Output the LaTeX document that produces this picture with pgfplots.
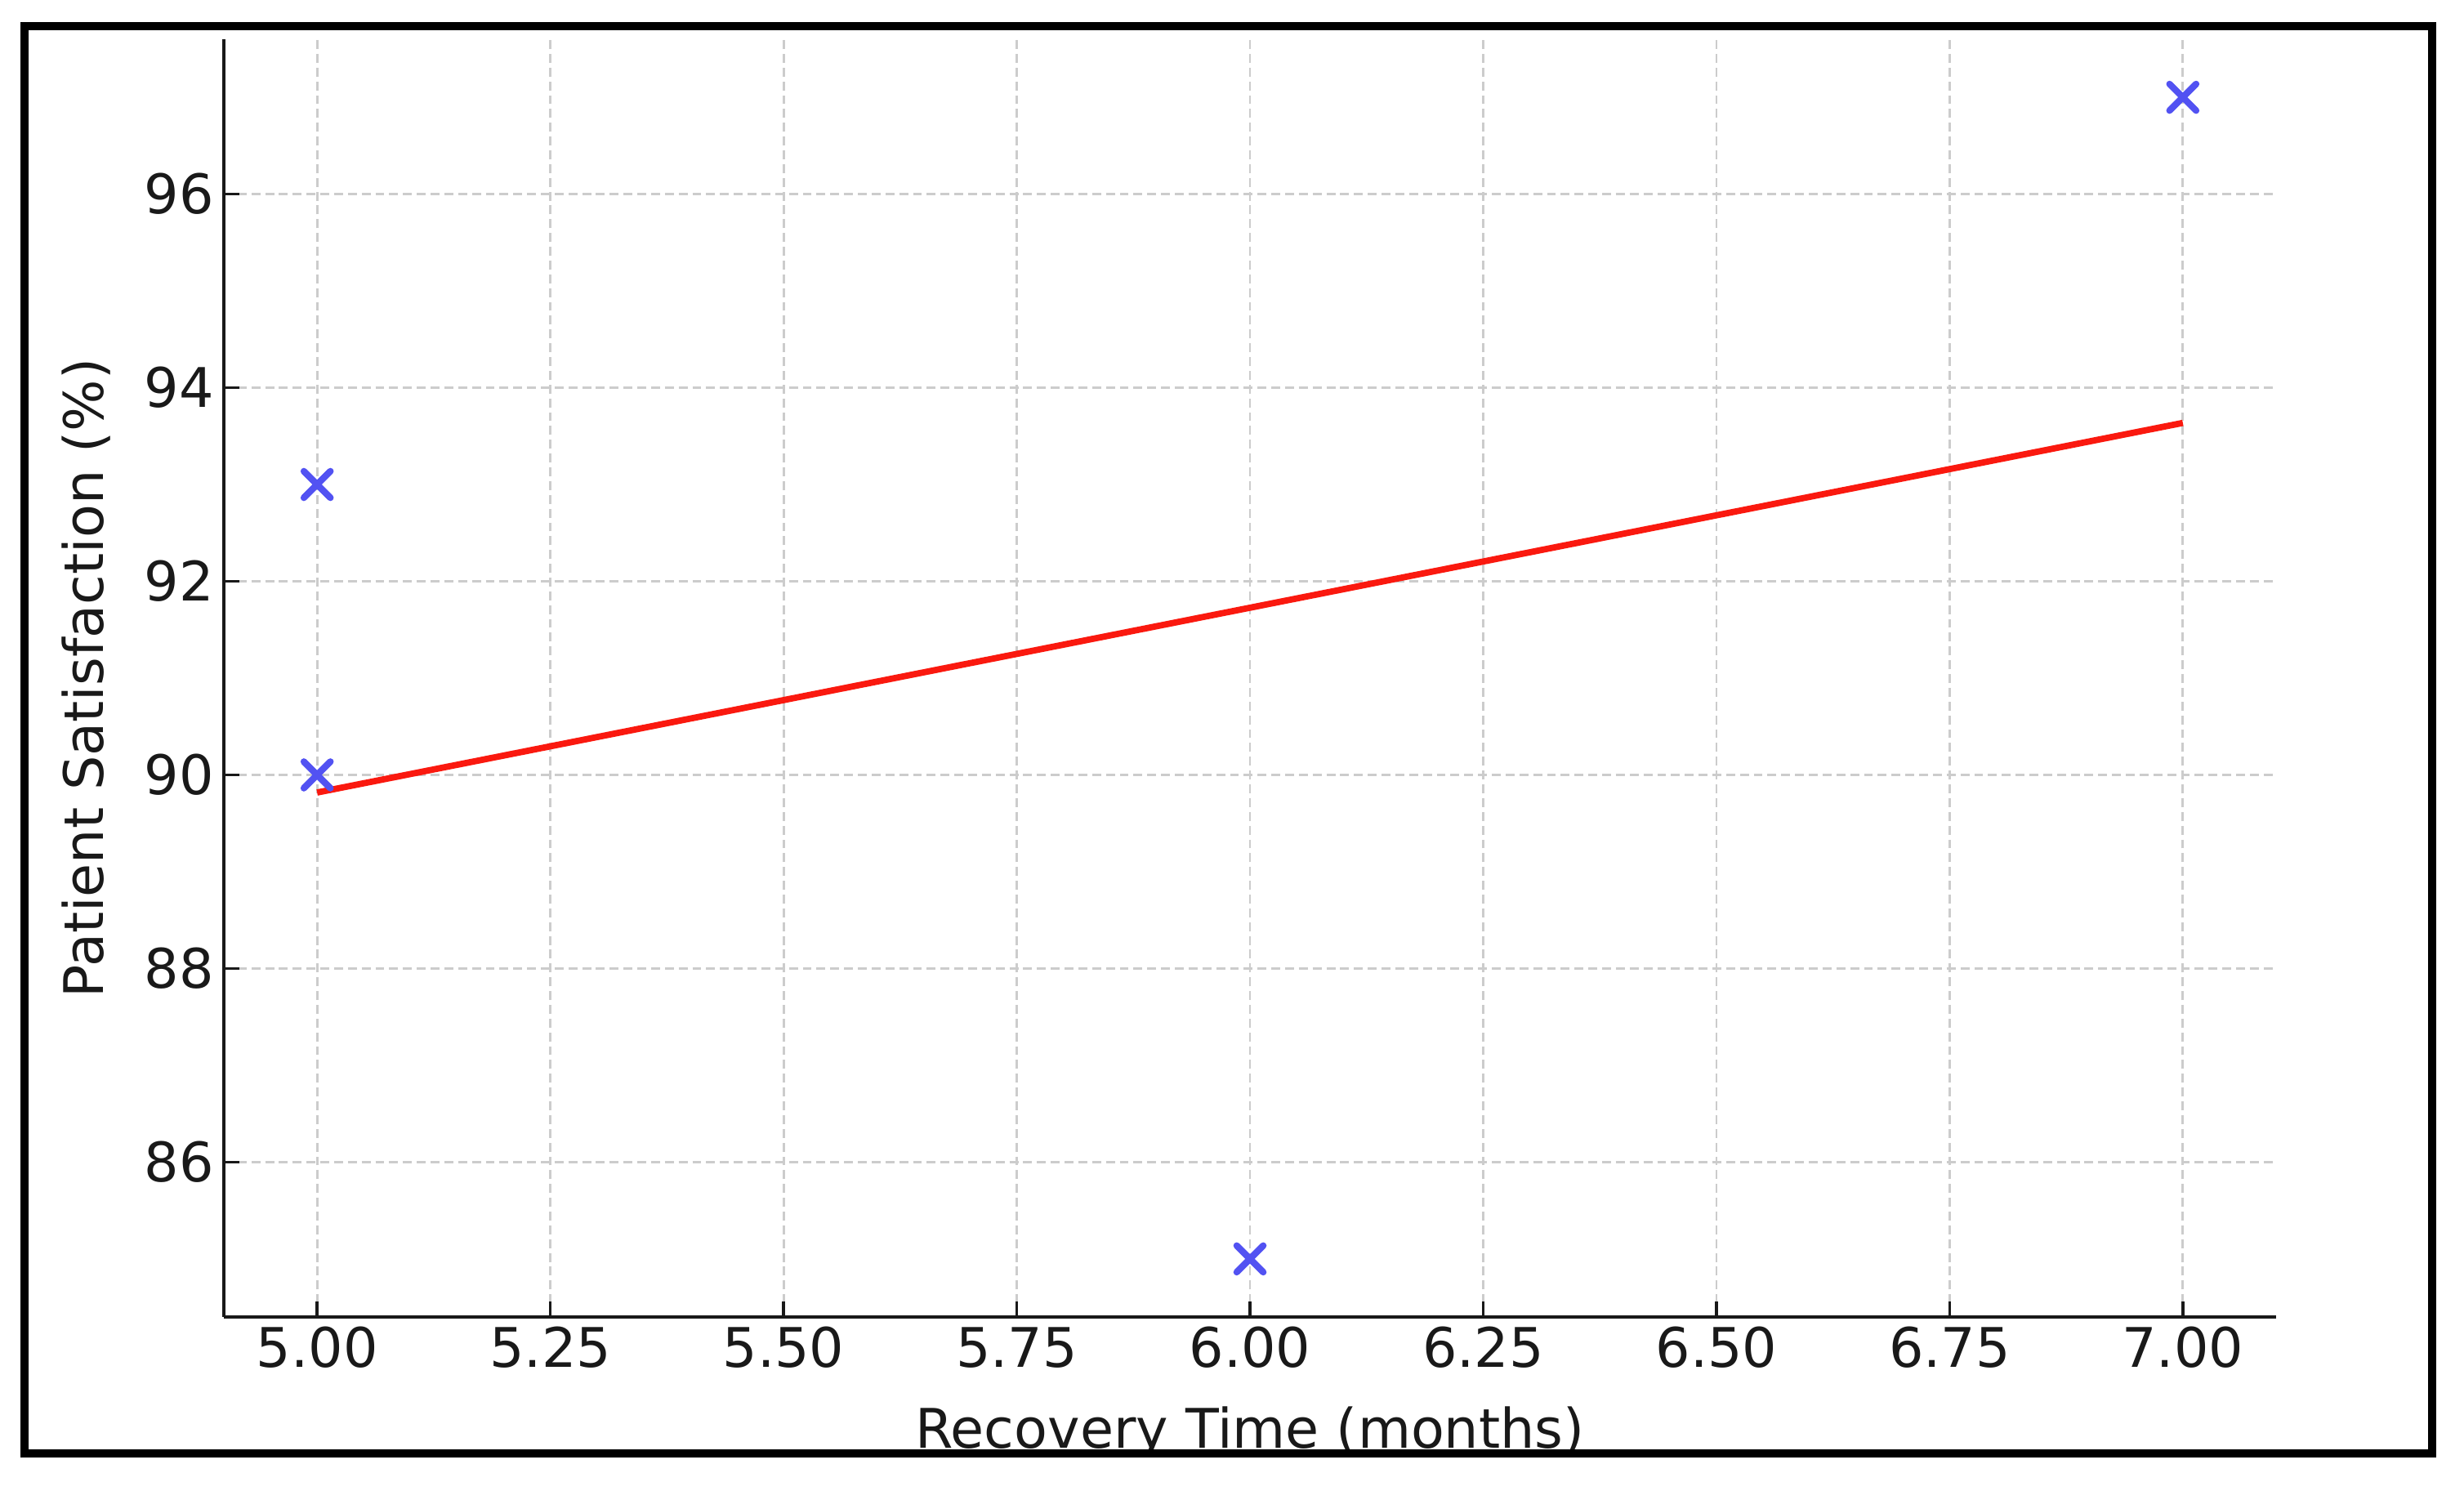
\documentclass[border=0pt]{standalone}
\usepackage{fontspec}
\setmainfont{DejaVu Sans}
\usepackage{pgfplots}
\pgfplotsset{compat=1.18}

\definecolor{markblue}{RGB}{82,82,242}
\definecolor{fitred}{RGB}{250,25,15}

\begin{document}
\begin{tikzpicture}
% page = 3016 x 1824 px, 1 px = 0.01 cm
\path[use as bounding box] (0,0) rectangle (30.16,18.24);

\begin{axis}[
    at={(2.74cm,2.12cm)},
    anchor=south west,
    scale only axis,
    width=25.12cm,
    height=15.64cm,
    xmin=4.9, xmax=7.1,
    ymin=84.4, ymax=97.6,
    xtick={5,5.25,5.5,5.75,6,6.25,6.5,6.75,7},
    ytick={86,88,90,92,94,96},
    xticklabel style={/pgf/number format/.cd, fixed, fixed zerofill, precision=2},
    yticklabel style={/pgf/number format/.cd, fixed, precision=0},
    /pgf/number format/assume math mode=true,
    tick label style={font=\fontsize{19}{23}\selectfont, text=black!90},
    axis x line*=bottom,
    axis y line*=left,
    axis line style={-, line width=1.4pt, black!90},
    tick align=inside,
    major tick length=0.19cm,
    tick style={line width=1pt, black!90},
    grid=major,
    major grid style={dash pattern=on 3.1pt off 1.7pt, color=black!20, line width=0.8pt},
    every axis x label/.style={at={(axis description cs:0.5,-0.1025)}, anchor=base,
        font=\fontsize{19}{23}\selectfont, text=black!90},
    every axis y label/.style={at={(axis description cs:-0.0669,0.5)}, rotate=90, anchor=center,
        font=\fontsize{19}{23}\selectfont, text=black!90},
    xlabel={Recovery Time (months)},
    ylabel={Patient Satisfaction (\%)},
]

% fitted line
\addplot[color=fitred, line width=2.2pt, no marks] coordinates {
    (5, 89.818)
    (7, 93.636)
};

% observations
\addplot[
    only marks,
    mark=x,
    mark size=0.23cm,
    mark options={line width=2.3pt, line cap=round, color=markblue}
] coordinates {
    (5, 93)
    (5, 90)
    (6, 85)
    (7, 97)
};

\end{axis}

% outer frame, hides the bottom of the x label
\fill[white] (0,0) rectangle (30.16,0.45);
\draw[line width=0.1cm, black] (0.30,0.45) rectangle (29.77,17.92);
\end{tikzpicture}
\end{document}
